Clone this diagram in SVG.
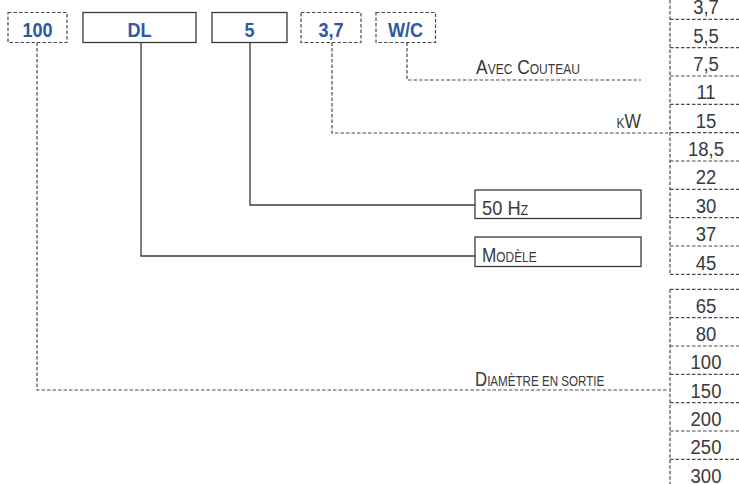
<svg xmlns="http://www.w3.org/2000/svg" width="739" height="484" viewBox="0 0 739 484">
<style>
.bg{fill:#fff}
.dash{fill:none;stroke:#4a4a4a;stroke-width:1.2;stroke-dasharray:3.5 2}
.solid{fill:none;stroke:#3a3a3a;stroke-width:1.3}
.code{font-family:"Liberation Sans",Arial,sans-serif;font-weight:bold;font-size:21px;fill:#2f58a6;text-anchor:middle}
.lbl{font-family:"Liberation Sans",Arial,sans-serif;font-size:21px;fill:#3a3a3a}
.sc{font-size:14.5px}
.num{font-family:"Liberation Sans",Arial,sans-serif;font-size:21px;fill:#3a3a3a;text-anchor:middle}
</style>
<rect class="bg" x="0" y="0" width="739" height="484"/>
<g id="connectors">
<path class="dash" d="M37,42.5 V390 H668"/>
<path class="solid" d="M141,42.5 V256 H475"/>
<path class="solid" d="M250,42.5 V205 H475"/>
<path class="dash" d="M332,42.5 V133 H668"/>
<path class="dash" d="M407,42.5 V80 H641"/>
</g>
<g id="code-100"><rect class="dash" x="8" y="12.5" width="59" height="30"/><text class="code" transform="translate(37.5,36.5) scale(0.86,1)">100</text></g>
<g id="code-DL"><rect class="solid" x="83" y="12.5" width="113" height="30"/><text class="code" transform="translate(139.5,36.5) scale(0.86,1)">DL</text></g>
<g id="code-5"><rect class="solid" x="212" y="12.5" width="75" height="30"/><text class="code" transform="translate(249.5,36.5) scale(0.86,1)">5</text></g>
<g id="code-37"><rect class="dash" x="301" y="12.5" width="60" height="30"/><text class="code" transform="translate(331,36.5) scale(0.86,1)">3,7</text></g>
<g id="code-WC"><rect class="dash" x="376" y="12.5" width="59.5" height="30"/><text class="code" transform="translate(405.5,36.5) scale(0.86,1)">W/C</text></g>
<g id="label-couteau"><text class="lbl" transform="translate(476,74) scale(0.83,1)">A<tspan class="sc">VEC</tspan> C<tspan class="sc">OUTEAU</tspan></text></g>
<g id="label-kw"><text class="lbl" text-anchor="end" transform="translate(641,128) scale(0.83,1)"><tspan class="sc">K</tspan>W</text></g>
<g id="label-50hz"><rect class="solid" x="475" y="190" width="166" height="28.5"/><text class="lbl" transform="translate(482,214.5) scale(0.87,1)">50 H<tspan class="sc">Z</tspan></text></g>
<g id="label-modele"><rect class="solid" x="475" y="237" width="166" height="29.5"/><text class="lbl" transform="translate(482,261.5) scale(0.82,1)">M<tspan class="sc">ODÈLE</tspan></text></g>
<g id="label-diametre"><text class="lbl" transform="translate(475,386) scale(0.8,1)">D<tspan class="sc">IAMÈTRE EN SORTIE</tspan></text></g>
<g id="table">
<path class="dash" d="M670,0 V275 M670,289.3 V484"/>
<path class="dash" d="M670,19.3 H739 M670,47.7 H739 M670,76 H739 M670,104.4 H739 M670,132.7 H739 M670,161 H739 M670,189.4 H739 M670,217.7 H739 M670,246 H739 M670,274.4 H739 M670,289.3 H739 M670,317.7 H739 M670,346 H739 M670,374.3 H739 M670,402.7 H739 M670,431 H739 M670,459.3 H739"/>
<text class="num" transform="translate(706,14.3) scale(0.88,1)">3,7</text>
<text class="num" transform="translate(706,42.7) scale(0.88,1)">5,5</text>
<text class="num" transform="translate(706,71) scale(0.88,1)">7,5</text>
<text class="num" transform="translate(706,99.4) scale(0.88,1)">11</text>
<text class="num" transform="translate(706,127.7) scale(0.88,1)">15</text>
<text class="num" transform="translate(706,156) scale(0.88,1)">18,5</text>
<text class="num" transform="translate(706,184.4) scale(0.88,1)">22</text>
<text class="num" transform="translate(706,212.7) scale(0.88,1)">30</text>
<text class="num" transform="translate(706,241) scale(0.88,1)">37</text>
<text class="num" transform="translate(706,270) scale(0.88,1)">45</text>
<text class="num" transform="translate(706,312.7) scale(0.88,1)">65</text>
<text class="num" transform="translate(706,341) scale(0.88,1)">80</text>
<text class="num" transform="translate(706,369.3) scale(0.88,1)">100</text>
<text class="num" transform="translate(706,397.7) scale(0.88,1)">150</text>
<text class="num" transform="translate(706,426) scale(0.88,1)">200</text>
<text class="num" transform="translate(706,454.3) scale(0.88,1)">250</text>
<text class="num" transform="translate(706,482.7) scale(0.88,1)">300</text>
</g>
</svg>
